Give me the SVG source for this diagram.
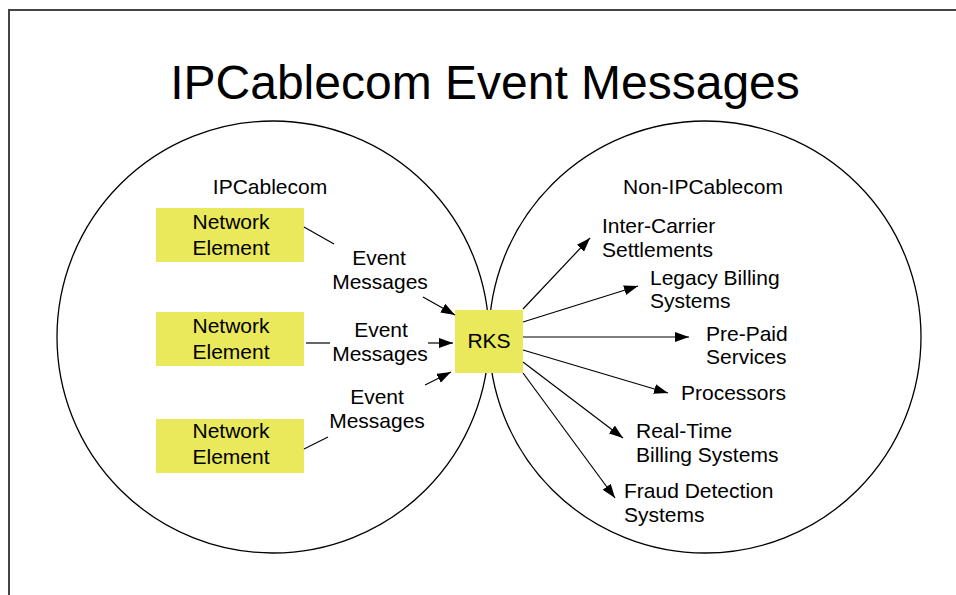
<svg xmlns="http://www.w3.org/2000/svg" width="956" height="595" viewBox="0 0 956 595">
<defs>
<marker id="ah" markerUnits="userSpaceOnUse" markerWidth="14" markerHeight="10" refX="14" refY="5" orient="auto">
<path d="M0,0 L14,5 L0,10 z" fill="#000"/>
</marker>
<style>
text{font-family:"Liberation Sans",Arial,sans-serif;fill:#000}
.t{font-size:48px;text-anchor:middle}
.l{font-size:21px}
.c{text-anchor:middle}
.box{fill:#E9E95B;stroke:none}
.ring{fill:none;stroke:#000;stroke-width:1.3}
.ln{stroke:#000;stroke-width:1.2;fill:none}
.ar{stroke:#000;stroke-width:1.2;fill:none;marker-end:url(#ah)}
</style>
</defs>
<rect width="956" height="595" fill="#fff"/>
<path d="M9,595 V10 H956" fill="none" stroke="#444" stroke-width="2"/>
<text class="t" x="485" y="99">IPCablecom Event Messages</text>
<g id="ipcablecom-domain">
<circle class="ring" cx="273" cy="337" r="216"/>
<text class="l c" x="270" y="194">IPCablecom</text>
</g>
<g id="non-ipcablecom-domain">
<circle class="ring" cx="705" cy="337" r="216"/>
<text class="l c" x="703" y="194">Non-IPCablecom</text>
</g>
<g id="ne1">
<rect class="box" x="156" y="208" width="148" height="54"/>
<text class="l c" x="231" y="229">Network</text>
<text class="l c" x="231" y="255">Element</text>
</g>
<g id="ne2">
<rect class="box" x="156" y="312" width="148" height="54"/>
<text class="l c" x="231" y="333">Network</text>
<text class="l c" x="231" y="359">Element</text>
</g>
<g id="ne3">
<rect class="box" x="156" y="419" width="148" height="54"/>
<text class="l c" x="231" y="438">Network</text>
<text class="l c" x="231" y="464">Element</text>
</g>
<g id="rks">
<rect class="box" x="455" y="310" width="68" height="63"/>
<text class="l c" x="489" y="348">RKS</text>
</g>
<g id="connectors">
<line class="ln" x1="304" y1="227" x2="334" y2="244"/>
<line class="ar" x1="423" y1="297" x2="455" y2="315"/>
<text class="l c" x="379" y="265">Event</text>
<text class="l c" x="380" y="289">Messages</text>
<line class="ln" x1="306" y1="343" x2="330" y2="343"/>
<line class="ar" x1="428" y1="343" x2="453" y2="343"/>
<text class="l c" x="381" y="337">Event</text>
<text class="l c" x="380" y="361">Messages</text>
<line class="ln" x1="304" y1="449" x2="328" y2="437"/>
<line class="ar" x1="425" y1="385" x2="451" y2="372"/>
<text class="l c" x="377" y="404">Event</text>
<text class="l c" x="377" y="428">Messages</text>
<line class="ar" x1="523" y1="309" x2="590" y2="238"/>
<line class="ar" x1="523" y1="322" x2="638" y2="286"/>
<line class="ar" x1="523" y1="337" x2="689" y2="337"/>
<line class="ar" x1="523" y1="350" x2="668" y2="393"/>
<line class="ar" x1="523" y1="362" x2="623" y2="438"/>
<line class="ar" x1="523" y1="373" x2="615" y2="498"/>
</g>
<g id="inter-carrier">
<text class="l" x="602" y="233">Inter-Carrier</text>
<text class="l" x="602" y="257">Settlements</text>
</g>
<g id="legacy-billing">
<text class="l" x="650" y="285">Legacy Billing</text>
<text class="l" x="650" y="308">Systems</text>
</g>
<g id="pre-paid">
<text class="l" x="706" y="341">Pre-Paid</text>
<text class="l" x="706" y="364">Services</text>
</g>
<g id="processors">
<text class="l" x="681" y="400">Processors</text>
</g>
<g id="real-time">
<text class="l" x="636" y="438">Real-Time</text>
<text class="l" x="636" y="462">Billing Systems</text>
</g>
<g id="fraud-detection">
<text class="l" x="624" y="498">Fraud Detection</text>
<text class="l" x="624" y="522">Systems</text>
</g>
</svg>
